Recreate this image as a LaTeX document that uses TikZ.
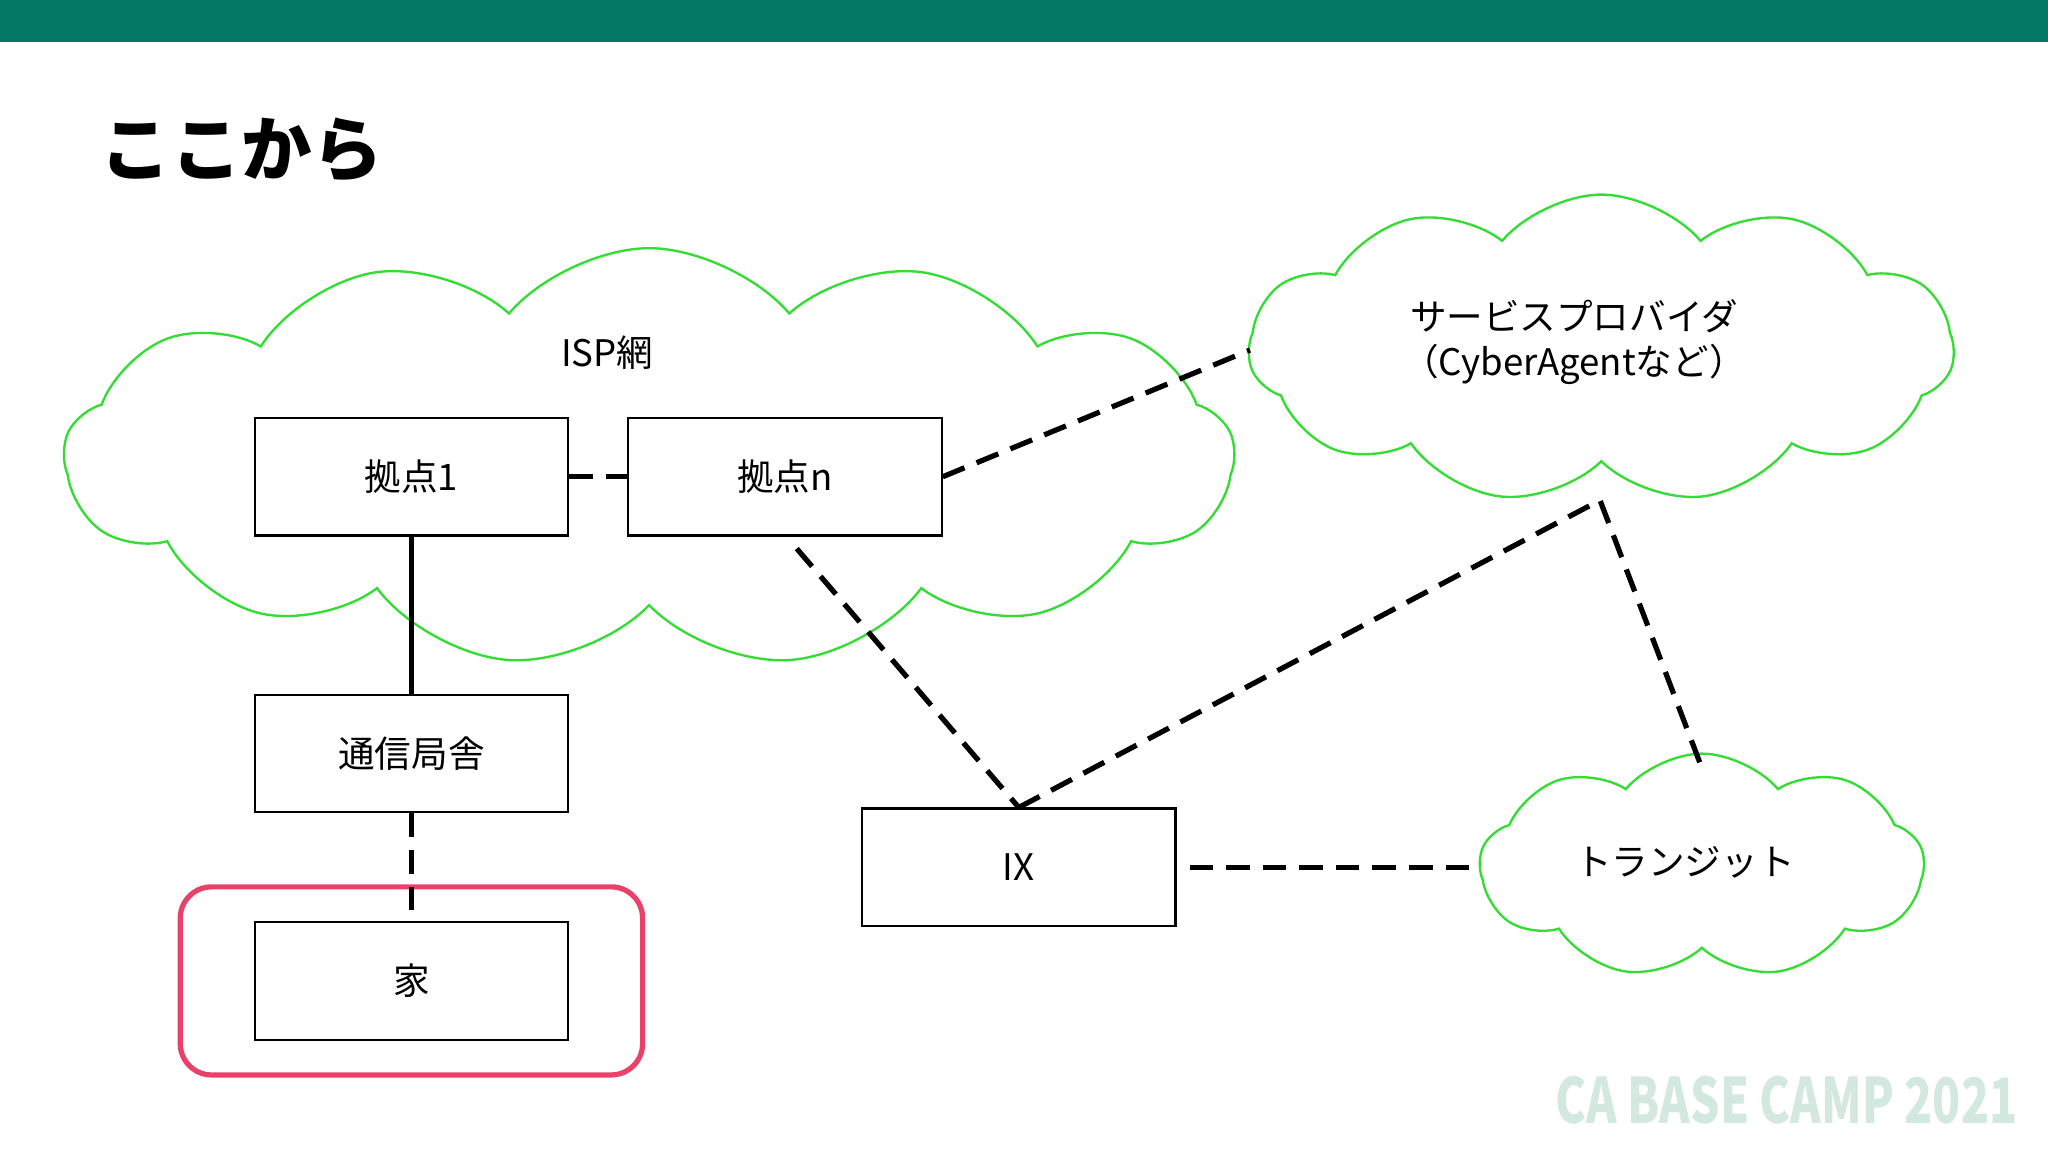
\documentclass[tikz,border=0pt]{standalone}
\usepackage{fontspec}
\setmainfont{Noto Sans CJK JP}
\usetikzlibrary{shapes.symbols}
\definecolor{bar}{HTML}{037864}
\definecolor{cg}{HTML}{33DD33}
\definecolor{pk}{HTML}{E8416A}
\definecolor{logo}{HTML}{D3E8DF}
\begin{document}
\begin{tikzpicture}[x=0.5pt,y=-0.5pt,
  box/.style={draw,line width=0.8pt,minimum width=120pt,minimum height=45pt,inner sep=0pt,font=\fontsize{14}{16}\selectfont},
  cl/.style={draw=cg,line width=0.9pt,cloud,cloud ignores aspect,cloud puffs=#1,cloud puff arc=100,inner sep=0pt},
  dl/.style={line width=2pt,dash pattern=on 9pt off 5pt},
  lab/.style={font=\fontsize{14}{17}\selectfont,align=center}]
\useasboundingbox (0,0) rectangle (1568,882);
\fill[bar] (0,0) rectangle (1568,32);
\node[anchor=west,font=\fontsize{27}{30}\bfseries\selectfont] (title) at (70,115) {ここから};
\node[cl=13,minimum width=448pt,minimum height=160pt] (isp) at (497,350) {};
\node[cl=11,minimum width=270pt,minimum height=118pt] (sp) at (1226,267) {};
\node[cl=9,minimum width=170pt,minimum height=86pt] (tr) at (1303,663) {};
\node[lab] (ispl) at (465,270) {ISP網};
\node[lab] (spl) at (1205,262) {サービスプロバイダ\\（CyberAgentなど）};
\node[lab] (trl) at (1290,660) {トランジット};
\draw[pk,line width=2pt,rounded corners=12pt] (138,679) rectangle (492,823);
\node[box,fill=white] (b1) at (315,365) {拠点1};
\node[box,fill=white] (bn) at (601,365) {拠点n};
\node[box,fill=white] (tk) at (315,577) {通信局舎};
\node[box,fill=white] (ie) at (315,751) {家};
\node[box,fill=white] (ix) at (780,664) {IX};
\coordinate (spw) at (957,268);
\coordinate (sps) at (1225,383);
\coordinate (trn) at (1303,588);
\coordinate (trw) at (1133,664);
\coordinate (bnb) at (610,420);
\draw[dl] (b1) -- (bn);
\draw[line width=2pt] (b1) -- (tk);
\draw[dl] (tk) -- (ie);
\draw[dl] (bn.east) -- (spw);
\draw[dl] (bnb) -- (ix.north);
\draw[dl] (ix.north) -- (sps) -- (trn);
\draw[dl] ([xshift=5pt]ix.east) -- (trw);
\node[anchor=east,text=logo,xscale=0.74,font=\fontsize{24}{26}\bfseries\selectfont] (lg) at (1550,842) {CA BASE CAMP 2021};
\end{tikzpicture}
\end{document}
